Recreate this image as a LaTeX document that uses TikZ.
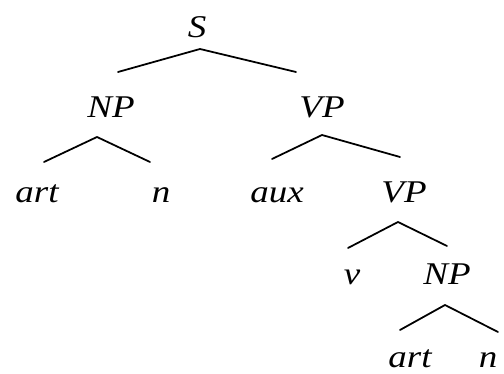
\documentclass[tikz,border=0pt]{standalone}
\usepackage{fontspec}
\newfontfamily\catfont[FakeStretch=1.17]{Liberation Serif Italic}
\usetikzlibrary{calc}

\begin{document}
\begin{tikzpicture}[
 x=0.02cm, y=-0.02cm,
 cat/.style={anchor=base, inner sep=0pt, font=\fontsize{18}{20}\catfont},
 branch/.style={line width=1pt, line join=miter, line cap=round}
]
\useasboundingbox (0,0) rectangle (504,374);

% Sentence
\node[cat] (s) at (197,38) {S};

% Subject and predicate
\node[cat] (np) at (111,118) {NP};
\node[cat] (vp) at (322,118) {VP};

% Third row
\node[cat] (art) at (37,203) {art};
\node[cat] (n) at (161,203) {n};
\node[cat] (aux) at (277,203) {aux};
\node[cat] (vp2) at (404,203) {VP};

% Fourth row
\node[cat] (v) at (352,285) {v};
\node[cat] (np2) at (447,285) {NP};

% Bottom row
\node[cat] (art2) at (410,368) {art};
\node[cat] (n2) at (488,368) {n};

% Branches
\draw[branch] ($(np.base)+(7,-46)$) -- ($(s.base)+(3,11)$) -- ($(vp.base)+(-26,-46)$);
\draw[branch] ($(art.base)+(7,-41)$) -- ($(np.base)+(-14,19)$) -- ($(n.base)+(-11,-41)$);
\draw[branch] ($(aux.base)+(-5,-44)$) -- ($(vp.base)+(0,17)$) -- ($(vp2.base)+(-4,-46)$);
\draw[branch] ($(v.base)+(-4,-37)$) -- ($(vp2.base)+(-6,19)$) -- ($(np2.base)+(0,-39)$);
\draw[branch] ($(art2.base)+(-10,-38)$) -- ($(np2.base)+(-2,20)$) -- ($(n2.base)+(10,-36)$);

\end{tikzpicture}
\end{document}
